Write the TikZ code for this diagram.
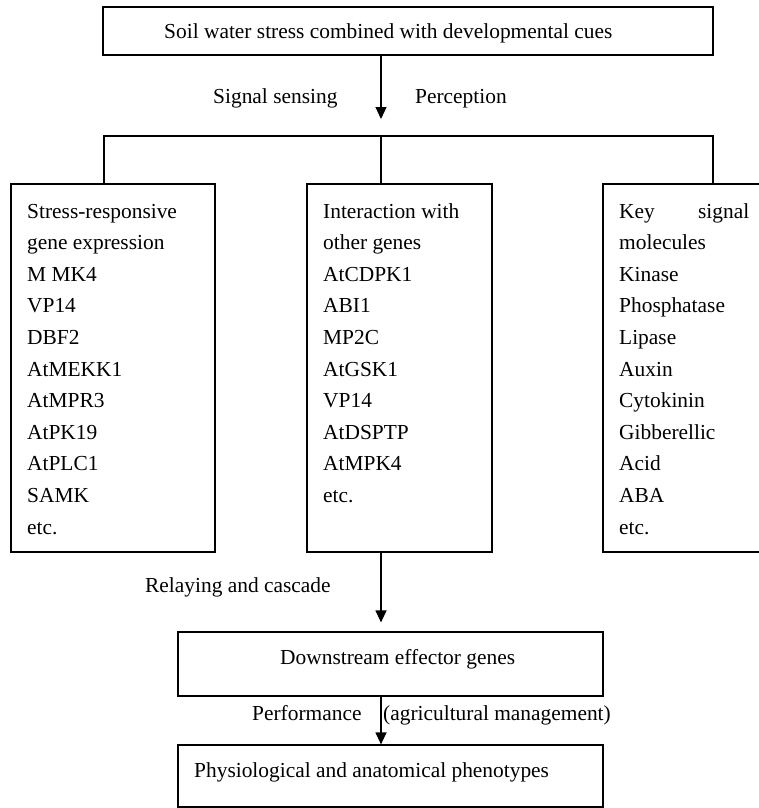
\documentclass[tikz,border=0pt]{standalone}
\usepackage{fontspec}
\setmainfont{Liberation Serif}
\usetikzlibrary{arrows.meta}

\begin{document}
\begin{tikzpicture}[x=1pt, y=-1pt,
  box/.style={draw, line width=1.2pt, inner sep=0pt},
  txt/.style={inner sep=0pt, font=\fontsize{21.4}{31.6}\selectfont},
  wire/.style={line width=1.2pt},
  flow/.style={-{Triangle[length=12pt,width=11pt]}, line width=1.2pt}]

\useasboundingbox (0,0) rectangle (759,808);

\node[box, minimum width=610pt, minimum height=48pt] (soil) at (408,31) {};
\node[txt, anchor=base west] (soiltxt) at (164,38) {Soil water stress combined with developmental cues};

\coordinate (sense) at (381,119);
\coordinate (hub) at (381,136);
\coordinate (hubL) at (104,136);
\coordinate (hubR) at (713,136);

\draw[flow] (soil.south -| sense) -- (sense);
\node[txt, anchor=base west] (sensing) at (213,103) {Signal sensing};
\node[txt, anchor=base west] (percept) at (415,103) {Perception};

\node[box, minimum width=204pt, minimum height=368pt] (gene) at (113,368) {};
\node[box, minimum width=185pt, minimum height=368pt] (inter) at (399.5,368) {};
\node[box, minimum width=220pt, minimum height=368pt] (key) at (713,368) {};

\draw[wire] (gene.north -| hubL) -- (hubL) -- (hubR) -- (key.north -| hubR);
\draw[wire] (hub) -- (inter.north -| hub);

\foreach \line [count=\i from 0] in {Stress-responsive, gene expression, M MK4, VP14, DBF2, AtMEKK1, AtMPR3, AtPK19, AtPLC1, SAMK, etc.}
  \node[txt, anchor=base west] (gene\i) at (27, 218+31.6*\i) {\line};

\foreach \line [count=\i from 0] in {Interaction with, other genes, AtCDPK1, ABI1, MP2C, AtGSK1, VP14, AtDSPTP, AtMPK4, etc.}
  \node[txt, anchor=base west] (inter\i) at (323, 218+31.6*\i) {\line};

\foreach \line [count=\i from 0] in {{\makebox[130pt][s]{Key signal}}, molecules, Kinase, Phosphatase, Lipase, Auxin, Cytokinin, Gibberellic, Acid, ABA, etc.}
  \node[txt, anchor=base west] (key\i) at (619, 218+31.6*\i) {\line};

\node[box, minimum width=425pt, minimum height=64pt] (down) at (390.5,664) {};
\node[txt, anchor=base west] (downtxt) at (280,664) {Downstream effector genes};
\draw[flow, shorten >=9pt] (inter.south -| hub) -- (down.north -| hub);
\node[txt, anchor=base west] (relay) at (145,592) {Relaying and cascade};

\node[box, minimum width=425pt, minimum height=62pt] (pheno) at (390.5,776) {};
\node[txt, anchor=base west] (phenotxt) at (194,777) {Physiological and anatomical phenotypes};
\draw[flow] (down.south -| hub) -- (pheno.north -| hub);
\node[txt, anchor=base west] (perform) at (252,720) {Performance};
\node[txt, anchor=base west] (agri) at (383,720) {(agricultural management)};

\end{tikzpicture}
\end{document}
